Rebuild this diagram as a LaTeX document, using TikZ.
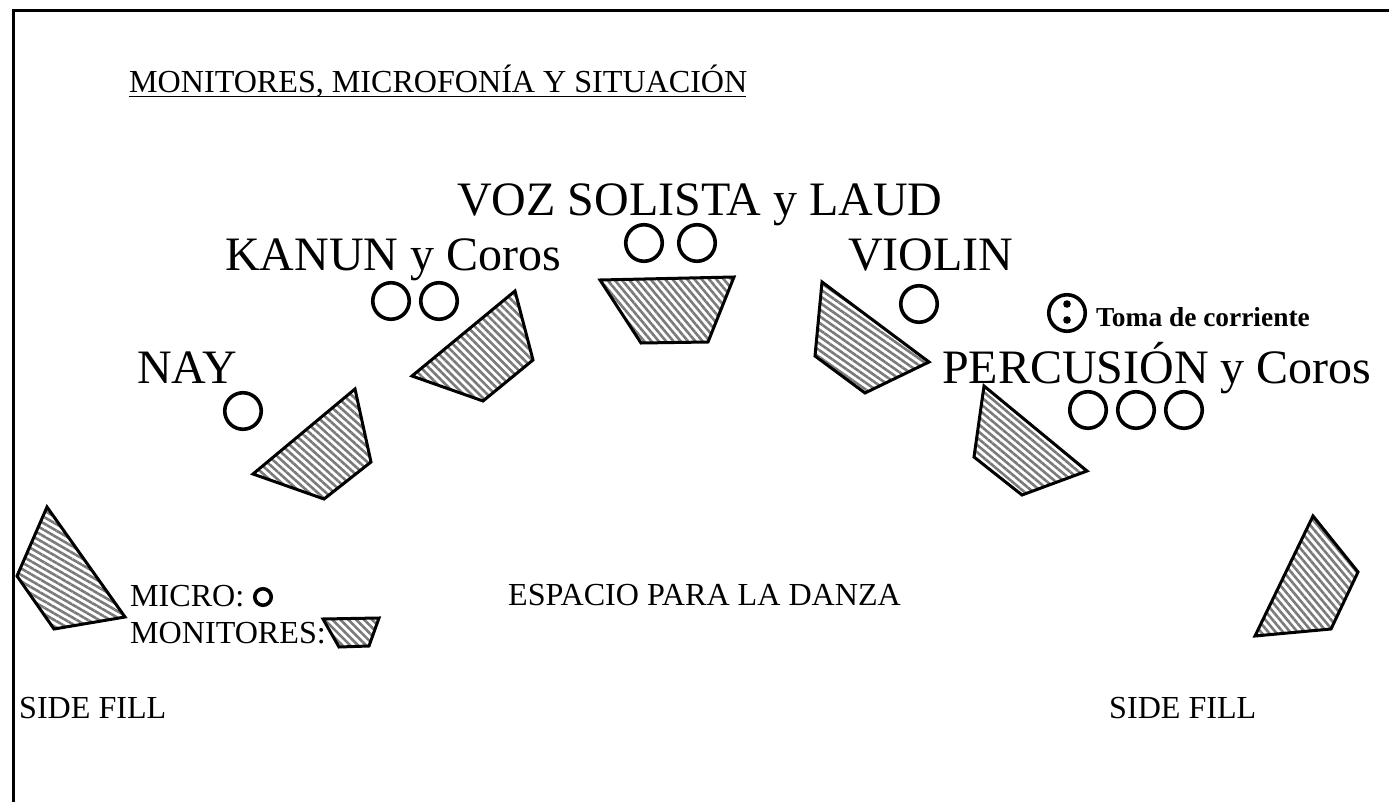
\documentclass[tikz,border=0pt]{standalone}
\usepackage{fontspec}
\setmainfont{Liberation Serif}
\usetikzlibrary{patterns.meta}
\tikzset{
  x=1pt,y=-1pt,
  frameline/.style={line width=3pt,black},
  mon/.style={draw=black,line width=3pt,line join=miter,pattern={Lines[angle=#1,distance=5.6pt,line width=2.6pt]},pattern color=black!52},
  mic/.style={circle,draw=black,line width=3.6pt,minimum size=36.5pt,inner sep=0pt},
  lab/.style={inner sep=0pt,anchor=base west,font=\fontsize{32.1}{38}\selectfont},
  big/.style={inner sep=0pt,anchor=base west,font=\fontsize{48}{56}\selectfont},
}
\begin{document}
\begin{tikzpicture}
\useasboundingbox (0,0) rectangle (1389,802);
\draw[frameline] (13,802) |- (1389,11);
\node[lab] (title) at (129,93) {MONITORES, MICROFONÍA Y SITUACIÓN};
\draw[line width=1.6pt] (129,96.5) -- (746,96.5);
\node[big] (voz) at (457,216) {VOZ SOLISTA y LAUD};
\node[big] (kanun) at (225,271) {KANUN y Coros};
\node[big] (violin) at (848,271) {VIOLIN};
\node[big] (nay) at (137,383) {NAY};
\node[big] (perc) at (942,383) {PERCUSIÓN y Coros};
\node[inner sep=0pt,anchor=base west,font=\fontsize{27.4}{32}\selectfont\bfseries] (toma) at (1096,326) {Toma de corriente};
\node[lab] (micro) at (130,606) {MICRO:};
\node[lab] (monit) at (130,643) {MONITORES:};
\node[lab] (esp) at (508,605) {ESPACIO PARA LA DANZA};
\node[lab] (sfl) at (19,718) {SIDE FILL};
\node[lab] (sfr) at (1109,718) {SIDE FILL};
\node[mic] (m1) at (644,243) {};
\node[mic] (m2) at (697,243) {};
\node[mic] (m3) at (391,301) {};
\node[mic] (m4) at (439,301) {};
\node[mic] (m5) at (919,304) {};
\node[mic] (m6) at (243,411) {};
\node[mic] (m7) at (1088,410) {};
\node[mic] (m8) at (1136,410) {};
\node[mic] (m9) at (1184,410) {};
\node[mic] (pw) at (1067,313) {};
\fill (1067,304) circle (3.8);
\fill (1067,320) circle (3.8);
\node[circle,draw=black,line width=3.6pt,minimum size=16.5pt,inner sep=0pt] (mm) at (263,597) {};
\draw[mon=-50] (600,280) -- (734,277) -- (708,342) -- (641,343) -- cycle;
\draw[mon=-45] (515,291) -- (533,360) -- (483,401) -- (412,376) -- cycle;
\draw[mon=-42] (355,389) -- (371,462) -- (324,499) -- (253,474) -- cycle;
\draw[mon=-35] (822,282) -- (929,362) -- (865,393) -- (815,356) -- cycle;
\draw[mon=-40] (984,386) -- (1087,471) -- (1022,495) -- (974,457) -- cycle;
\draw[mon=-30] (47,507) -- (125,617) -- (54,629) -- (17,576) -- cycle;
\draw[mon=-50] (1313,516) -- (1358,572) -- (1331,629) -- (1255,636) -- cycle;
\draw[mon=-45] (323,619) -- (379,618) -- (369,646) -- (339,647) -- cycle;
\end{tikzpicture}
\end{document}
